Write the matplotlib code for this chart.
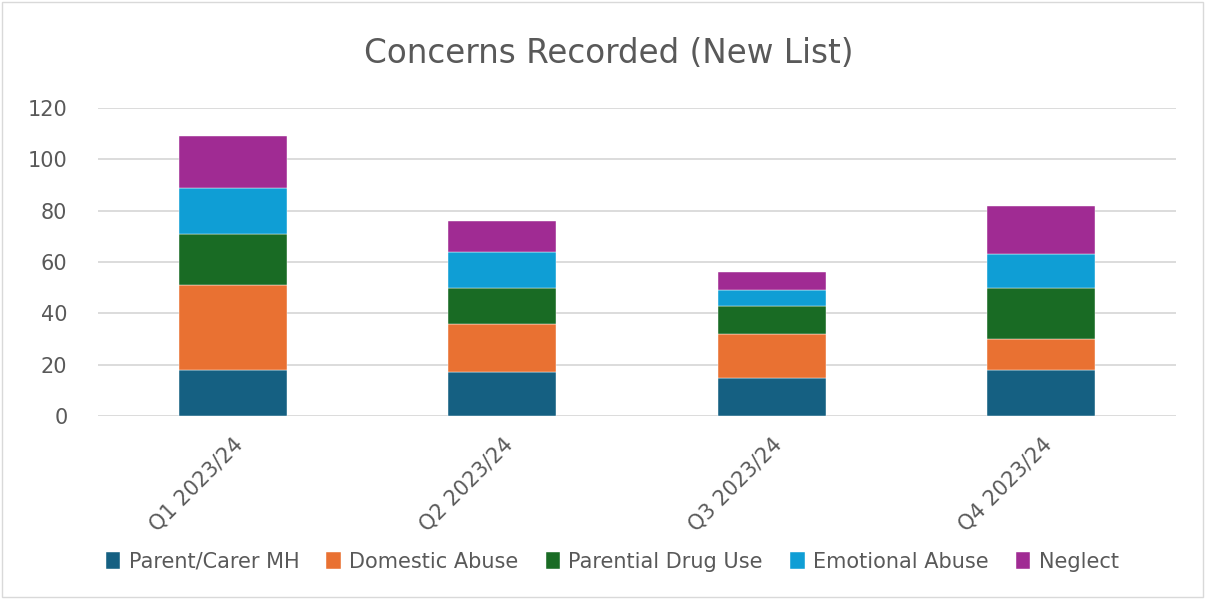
import numpy as np
import matplotlib.pyplot as plt
from matplotlib.patches import Rectangle

quarters = ['Q1 2023/24', 'Q2 2023/24', 'Q3 2023/24', 'Q4 2023/24']
series = ['Parent/Carer MH', 'Domestic Abuse', 'Parential Drug Use', 'Emotional Abuse', 'Neglect']
parent_mh = [18, 17, 15, 18]
domestic_abuse = [33, 19, 17, 12]
drug_use = [20, 14, 11, 20]
emotional_abuse = [18, 14, 6, 13]
neglect = [20, 12, 7, 19]
colors = ['#156082', '#E97132', '#196B24', '#0F9ED5', '#A02B93']

values = [parent_mh, domestic_abuse, drug_use, emotional_abuse, neglect]
text_color = '#595959'

fig = plt.figure(figsize=(12.05, 5.99), dpi=100)
ax = fig.add_axes([0.0813, 0.3055, 0.8947, 0.5142])

x = np.arange(len(quarters))
bottom = np.zeros(len(quarters))
for name, vals, c in zip(series, values, colors):
    ax.bar(x, vals, 0.4, bottom=bottom, color=c, label=name, zorder=3,
           edgecolor='white', linewidth=0.3)
    bottom += np.array(vals)

ax.set_xlim(-0.5, 3.5)
ax.set_ylim(0, 120)
ax.set_yticks(range(0, 121, 20))
ax.grid(axis='y', color='#d9d9d9', linewidth=1.3, zorder=0)
for s in ax.spines.values():
    s.set_visible(False)
ax.tick_params(axis='both', length=0, labelsize=15, labelcolor=text_color)
ax.tick_params(axis='y', pad=22)
ax.tick_params(axis='x', pad=13)
ax.set_xticks(x)
ax.set_xticklabels(quarters, rotation=45, ha='right', rotation_mode='anchor')

fig.text(0.505, 0.91, 'Concerns Recorded (New List)', ha='center', va='center',
         fontsize=23.5, color=text_color)

fig.legend(loc='center', bbox_to_anchor=(0.508, 0.062), ncol=5, frameon=False,
           fontsize=15, labelcolor=text_color, handlelength=0.7, handleheight=0.9,
           handletextpad=0.4, columnspacing=1.3)

fig.patches.append(Rectangle((0.002, 0.003), 0.996, 0.994, transform=fig.transFigure,
                             fill=False, edgecolor='#d9d9d9', linewidth=1))

plt.savefig('out.png', dpi=100)
